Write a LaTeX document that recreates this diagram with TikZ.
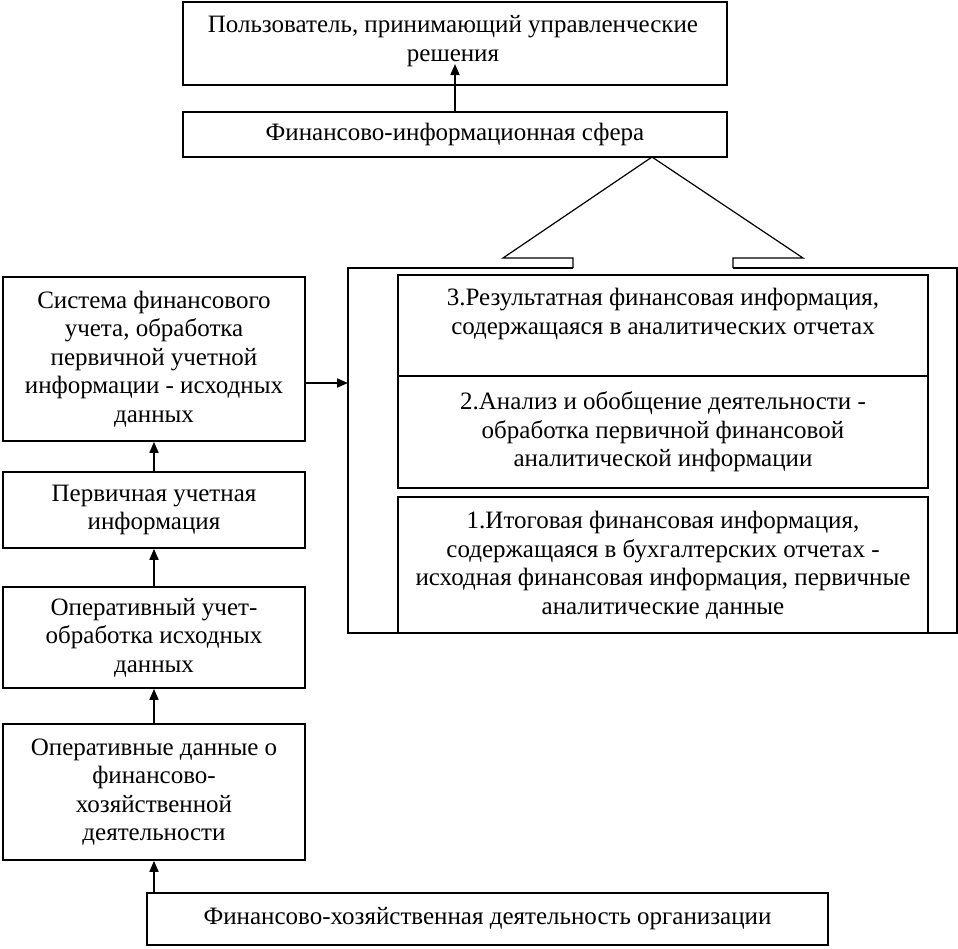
\documentclass[tikz,border=0pt]{standalone}
\usepackage{fontspec}
\setmainfont{Liberation Serif}
\usetikzlibrary{arrows.meta}
\tikzset{
  box/.style={draw, line width=1.7pt, align=center, inner sep=0pt, font=\fontsize{25}{28.5}\selectfont},
  txt/.style={align=center, inner sep=0pt, font=\fontsize{25}{28.5}\selectfont},
  arr/.style={line width=1.7pt, -{Triangle[width=9pt,length=11pt]}},
  thinl/.style={line width=1.2pt}
}
\begin{document}
\begin{tikzpicture}[x=1pt,y=-1pt]
\useasboundingbox (0,0) rectangle (958,948);
% top
\node[box, minimum width=544pt, minimum height=83pt] (U) at (455,43.5) {};
\node[txt] (Ut) at (453,41) {Пользователь, принимающий управленческие\\решения};
\node[box, minimum width=544pt, minimum height=45pt] (F) at (455,134.5) {Финансово-информационная сфера};
\coordinate (Utip) at (455,64);
\draw[arr] (F.north) -- (Utip);
% callout
\coordinate (apex) at (652,157);
\draw[thinl] (573,268) -- (573,258) -- (503,258) -- (apex) -- (803,258) -- (733,258) -- (733,268);
\draw[line width=1.7pt] (573,268) -- (348,268) -- (348,633) -- (957,633) -- (957,268) -- (733,268);
\coordinate (outL) at (348,383);
% inner boxes
\node[box, minimum width=530pt, minimum height=101pt] (R3) at (663,325.5) {};
\node[txt, anchor=north] (R3t) at (663,288) {3.Результатная финансовая информация,\\содержащаяся в аналитических отчетах};
\node[box, minimum width=530pt, minimum height=112pt] (R2) at (663,432) {2.Анализ и обобщение деятельности -\\обработка первичной финансовой\\аналитической информации};
\node[box, minimum width=530pt, minimum height=136pt] (R1) at (663,565) {1.Итоговая финансовая информация,\\содержащаяся в бухгалтерских отчетах -\\исходная финансовая информация, первичные\\аналитические данные};
% left column
\node[box, minimum width=302pt, minimum height=164pt] (S) at (154,359) {Система финансового\\учета, обработка\\первичной учетной\\информации - исходных\\данных};
\node[box, minimum width=302pt, minimum height=76pt] (P) at (154,510) {Первичная учетная\\информация};
\node[box, minimum width=302pt, minimum height=101pt] (O) at (154,637.5) {Оперативный учет-\\обработка исходных\\данных};
\node[box, minimum width=302pt, minimum height=136pt] (D) at (154,792) {Оперативные данные о\\финансово-\\хозяйственной\\деятельности};
\node[box, minimum width=681pt, minimum height=52pt] (B) at (487.5,919) {Финансово-хозяйственная деятельность организации};
% arrows
\draw[arr] (B.north -| D.south) -- (D.south);
\draw[arr] (D.north) -- (O.south);
\draw[arr] (O.north) -- (P.south);
\draw[arr] (P.north) -- (S.south);
\draw[arr] (S.east |- outL) -- (outL);
\end{tikzpicture}
\end{document}
